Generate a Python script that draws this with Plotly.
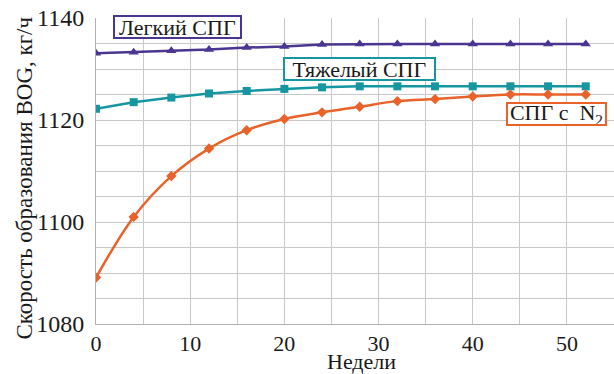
import plotly.graph_objects as go

weeks = [0, 4, 8, 12, 16, 20, 24, 28, 32, 36, 40, 44, 48, 52]
light_lng = [1133.1, 1133.3, 1133.6, 1133.8, 1134.2, 1134.4, 1134.8, 1134.9, 1134.9, 1134.9, 1134.9, 1134.9, 1134.9, 1134.9]
heavy_lng = [1122.2, 1123.5, 1124.4, 1125.2, 1125.7, 1126.1, 1126.4, 1126.6, 1126.6, 1126.6, 1126.6, 1126.6, 1126.6, 1126.6]
n2_lng = [1089.1, 1101.0, 1109.0, 1114.4, 1118.0, 1120.2, 1121.5, 1122.6, 1123.7, 1124.1, 1124.6, 1125.0, 1125.0, 1125.0]

labels = ["Легкий СПГ", "Тяжелый СПГ", "СПГ с  N<sub>2</sub>"]
colors = ["#4a3590", "#1596a0", "#e8622a"]
x_title = "Недели"
y_title = "Скорость образования BOG, кг/ч"

FONT = "Liberation Serif"
TXT = "#1a1a1a"

fig = go.Figure()
fig.add_trace(go.Scatter(x=weeks, y=light_lng, mode="lines+markers",
                         line=dict(color=colors[0], width=2.5),
                         marker=dict(symbol="triangle-up", size=9, color=colors[0])))
fig.add_trace(go.Scatter(x=weeks, y=heavy_lng, mode="lines+markers",
                         line=dict(color=colors[1], width=2.5),
                         marker=dict(symbol="square", size=8, color=colors[1])))
fig.add_trace(go.Scatter(x=weeks, y=n2_lng, mode="lines+markers",
                         line=dict(color=colors[2], width=2.5, shape="spline"),
                         marker=dict(symbol="diamond", size=8, color=colors[2])))

ann_pos = [(8.64, 1138.2, 125), (27.94, 1130.0, 149), (48.94, 1121.1, 97)]
for (x, y, w), text, c in zip(ann_pos, labels, colors):
    fig.add_annotation(x=x, y=y, xref="x", yref="y", text=text, showarrow=False,
                       font=dict(family=FONT, size=22, color=TXT),
                       bgcolor="white", bordercolor=c, borderwidth=2, borderpad=0,
                       width=w, height=20)

# axis titles
fig.add_annotation(x=0.512, y=-0.121, xref="paper", yref="paper", text=x_title, showarrow=False,
                   xanchor="center", yanchor="middle", font=dict(family=FONT, size=22, color=TXT))
fig.add_annotation(x=-0.138, y=0.477, xref="paper", yref="paper", text=y_title, showarrow=False,
                   textangle=-90, xanchor="center", yanchor="middle",
                   font=dict(family=FONT, size=23, color=TXT))

fig.update_layout(
    width=614, height=374,
    margin=dict(l=96, r=0, t=18, b=50),
    paper_bgcolor="white", plot_bgcolor="white",
    showlegend=False,
    font=dict(family=FONT, size=22, color=TXT),
)
fig.update_xaxes(range=[0, 55], dtick=10, tick0=0, showgrid=True, gridcolor="#c8c8c8", gridwidth=1,
                 minor=dict(dtick=5, showgrid=True, gridcolor="#c8c8c8", gridwidth=1),
                 zeroline=False, showline=True, linecolor="#b0b0b0", linewidth=1,
                 ticks="", ticklabelstandoff=0,
                 tickfont=dict(family=FONT, size=22, color=TXT))
fig.update_yaxes(range=[1080, 1140], dtick=20, tick0=1080, showgrid=True, gridcolor="#c8c8c8", gridwidth=1,
                 minor=dict(dtick=5, showgrid=True, gridcolor="#c8c8c8", gridwidth=1),
                 zeroline=False, showline=True, linecolor="#b0b0b0", linewidth=1,
                 ticks="", ticklabelstandoff=6,
                 tickfont=dict(family=FONT, size=24, color=TXT))

fig.write_html("out.html")
